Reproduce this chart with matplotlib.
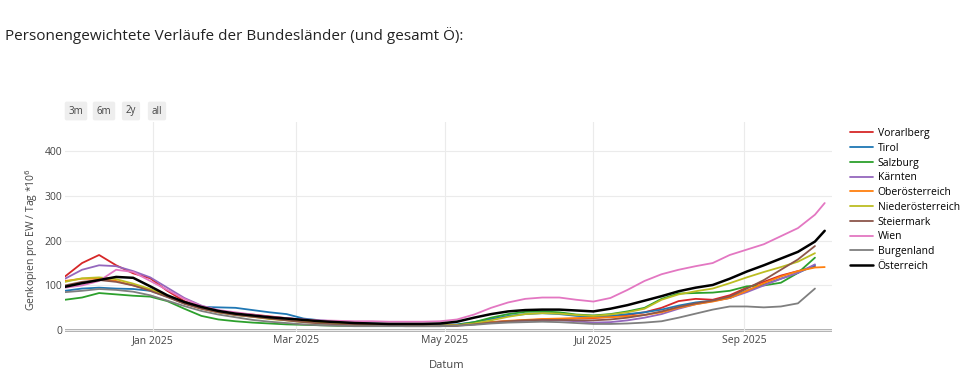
import matplotlib
matplotlib.use("Agg")
import matplotlib.pyplot as plt
import matplotlib.dates as mdates
import pandas as pd

plt.rcParams['font.family'] = ['Open Sans', 'DejaVu Sans']

# weekly values, first point 2024-11-26
start = "2024-11-26"
extra_day = "2025-10-04"

vorarlberg = [120, 150, 168, 145, 127, 116, 88, 65, 50, 42, 38, 35, 31, 27, 23, 20, 17, 15, 13, 12,
              11, 10, 10, 11, 14, 18, 20, 22, 24, 25, 26, 27, 30, 34, 40, 50, 65, 70, 68, 78,
              95, 108, 122, 132, 142]
tirol = [88, 93, 95, 93, 92, 88, 75, 60, 52, 51, 50, 45, 40, 36, 26, 22, 19, 17, 15, 14,
         13, 12, 12, 13, 18, 25, 32, 36, 38, 36, 32, 30, 32, 36, 40, 46, 55, 62, 66, 72,
         88, 102, 115, 128, 145]
salzburg = [68, 73, 83, 80, 77, 75, 65, 48, 32, 24, 20, 17, 15, 13, 12, 11, 10, 10, 10, 10,
            10, 10, 10, 12, 18, 28, 36, 41, 42, 40, 35, 33, 36, 42, 50, 70, 82, 83, 84, 88,
            98, 100, 106, 128, 162]
kaernten = [115, 135, 145, 143, 132, 118, 95, 72, 55, 44, 38, 34, 29, 24, 20, 17, 14, 12, 11, 10,
            10, 10, 10, 11, 14, 18, 20, 21, 22, 22, 20, 17, 18, 22, 28, 36, 48, 58, 65, 72,
            85, 100, 115, 128, 147]
ooe = [110, 115, 115, 110, 100, 90, 76, 60, 48, 40, 35, 31, 27, 23, 20, 17, 15, 13, 12, 11,
       10, 10, 10, 11, 14, 18, 21, 23, 25, 26, 27, 28, 29, 31, 34, 40, 50, 58, 64, 72,
       88, 105, 120, 132, 140, 141]
noe = [108, 116, 118, 114, 104, 92, 77, 61, 49, 40, 34, 30, 25, 22, 18, 16, 14, 12, 11, 10,
       10, 10, 10, 11, 15, 22, 30, 36, 38, 37, 34, 32, 35, 40, 48, 68, 80, 87, 93, 105,
       118, 130, 141, 153, 172]
steiermark = [100, 108, 112, 108, 100, 88, 74, 59, 48, 40, 34, 30, 26, 22, 18, 15, 13, 12, 11, 10,
              9, 9, 9, 10, 13, 17, 20, 22, 23, 23, 22, 22, 24, 28, 34, 42, 52, 60, 66, 75,
              93, 112, 135, 158, 188]
wien = [95, 100, 110, 135, 130, 110, 90, 70, 54, 45, 40, 35, 30, 27, 24, 22, 21, 20, 20, 19,
        19, 19, 20, 24, 35, 50, 62, 70, 73, 73, 68, 64, 72, 90, 110, 125, 135, 143, 150, 168,
        180, 192, 210, 228, 258, 284]
burgenland = [85, 88, 92, 90, 86, 78, 66, 54, 43, 35, 29, 23, 19, 16, 13, 11, 10, 9, 9, 9,
              9, 9, 9, 10, 12, 15, 17, 18, 19, 18, 16, 14, 14, 15, 17, 20, 28, 37, 46, 53,
              53, 51, 53, 60, 93]
oesterreich = [97, 105, 112, 119, 117, 98, 78, 63, 52, 43, 37, 33, 29, 26, 23, 20, 18, 16, 15, 14,
               14, 14, 15, 19, 28, 36, 42, 45, 46, 46, 44, 42, 48, 56, 66, 76, 87, 95, 101, 115,
               131, 145, 160, 175, 198, 222]

series = [
    ("Vorarlberg", vorarlberg, "#d62728"),
    ("Tirol", tirol, "#1f77b4"),
    ("Salzburg", salzburg, "#2ca02c"),
    ("Kärnten", kaernten, "#9467bd"),
    ("Oberösterreich", ooe, "#ff7f0e"),
    ("Niederösterreich", noe, "#bcbd22"),
    ("Steiermark", steiermark, "#8c564b"),
    ("Wien", wien, "#e377c2"),
    ("Burgenland", burgenland, "#7f7f7f"),
    ("Österreich", oesterreich, "#000000"),
]

weekly = pd.date_range(start, periods=45, freq="7D")

fig = plt.figure(figsize=(9.6, 3.76), dpi=100)
ax = fig.add_axes([65/960, 1-332/376, (832-65)/960, (332-122)/376])

for name, vals, col in series:
    d = list(weekly[:len(vals)])
    if len(vals) > 45:
        d = list(weekly) + [pd.Timestamp(extra_day)]
    lw = 1.8 if name == "Österreich" else 1.3
    ax.plot(d, vals, color=col, lw=lw, label=name,
            solid_capstyle="round", solid_joinstyle="round")

ax.axhline(0, color="#a8a8a8", lw=2, zorder=0.5)
ax.set_xlim(pd.Timestamp("2024-11-26"), pd.Timestamp("2025-10-07"))
ax.set_ylim(-4, 465)
ax.set_yticks([0, 100, 200, 300, 400])
ax.xaxis.set_major_locator(mdates.MonthLocator(bymonth=[1, 3, 5, 7, 9]))
ax.xaxis.set_major_formatter(mdates.DateFormatter("%b %Y"))
ax.grid(True, color="#ebebeb", lw=0.8)
ax.set_axisbelow(True)
for s in ax.spines.values():
    s.set_visible(False)
ax.tick_params(length=0, labelsize=7.5, labelcolor="#444444", pad=2)

fig.text(5/960, 1-35/376, "Personengewichtete Verläufe der Bundesländer (und gesamt Ö):",
         fontsize=11, color="#222222", va="center", ha="left")
fig.text(447/960, 1-366/376, "Datum", fontsize=8, color="#444444", ha="center", va="center")
fig.text(32/960, 1-240/376, "Genkopien pro EW / Tag *10$^6$", fontsize=7.5, color="#444444",
         rotation=90, ha="center", va="center")

# range buttons
for lbl, xc in [("3m", 76), ("6m", 104), ("2y", 131), ("all", 157)]:
    fig.text(xc/960, 1-111/376, lbl, fontsize=7, color="#444444", ha="center", va="center",
             bbox=dict(boxstyle="round,pad=0.4,rounding_size=0.2", fc="#eeeeee", ec="none"))

fig.legend(loc="upper left", bbox_to_anchor=(850/960, 1-128/376), frameon=False,
           fontsize=7.5, handlelength=2.2, handletextpad=0.45, labelspacing=0.36,
           borderaxespad=0, borderpad=0)

fig.savefig("out.png", dpi=100)
